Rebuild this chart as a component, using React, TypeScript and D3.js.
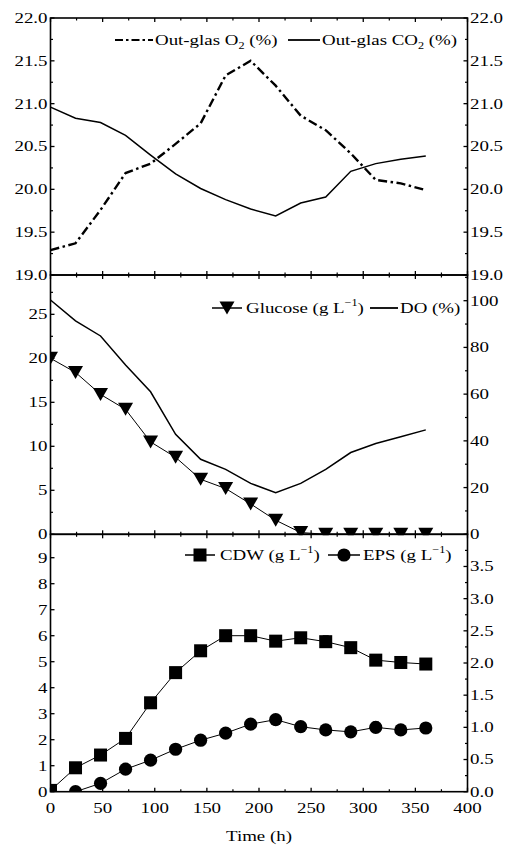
import React from "react";
import * as d3 from "d3";

// ---------- data ----------
const time = [0, 24, 48, 72, 96, 120, 144, 168, 192, 216, 240, 264, 288, 312, 336, 360];
const o2 = [19.29, 19.37, 19.76, 20.19, 20.3, 20.53, 20.77, 21.33, 21.5, 21.21, 20.86, 20.69, 20.42, 20.11, 20.07, 19.99];
const co2 = [20.96, 20.83, 20.78, 20.63, 20.4, 20.18, 20.01, 19.88, 19.77, 19.69, 19.84, 19.91, 20.21, 20.3, 20.35, 20.39];
const glucose = [20.0, 18.4, 15.9, 14.2, 10.5, 8.75, 6.25, 5.2, 3.45, 1.6, 0.2, 0, 0, 0, 0, 0];
const dissolvedO = [100.3, 91.4, 84.9, 72.5, 61.0, 42.8, 32.1, 27.8, 21.8, 17.8, 21.8, 27.8, 35.0, 38.9, 41.8, 44.7];
const cdw = [0.05, 0.92, 1.41, 2.05, 3.42, 4.58, 5.42, 6.0, 6.0, 5.79, 5.92, 5.77, 5.54, 5.06, 4.97, 4.91];
const cdwErr = [0, 0, 0, 0, 0, 0, 0, 0, 0, 0, 0, 0.22, 0.15, 0.08, 0, 0.2];
const eps = [0, 0, 0.13, 0.35, 0.49, 0.66, 0.8, 0.91, 1.05, 1.12, 1.01, 0.96, 0.93, 1.0, 0.96, 0.99];
const epsErr = [0, 0, 0, 0, 0, 0, 0, 0, 0, 0, 0, 0, 0, 0.08, 0, 0];

const xTicks = [0, 50, 100, 150, 200, 250, 300, 350, 400];
const topTicks = [19.0, 19.5, 20.0, 20.5, 21.0, 21.5, 22.0];
const midLeftTicks = [0, 5, 10, 15, 20, 25];
const midRightTicks = [0, 20, 40, 60, 80, 100];
const botLeftTicks = [0, 1, 2, 3, 4, 5, 6, 7, 8, 9];
const botRightTicks = [0, 0.5, 1.0, 1.5, 2.0, 2.5, 3.0, 3.5];

// ---------- layout ----------
const W = 510, H = 849;
const X0 = 50.5, X1 = 467.5;
const P1 = [18, 275];
const P2 = [275, 534.3];
const P3 = [534.3, 791.7];
const FONT = "'Liberation Serif', 'Times New Roman', serif";
const FS = 15.5;
const SX = 1.22;

const x = d3.scaleLinear().domain([0, 400]).range([X0, X1]);
const yTop = d3.scaleLinear().domain([19, 22]).range([P1[1], P1[0]]);
const yMidL = d3.scaleLinear().domain([0, 29.47]).range([P2[1], P2[0]]);
const yMidR = d3.scaleLinear().domain([0, 111]).range([P2[1], P2[0]]);
const yBotL = d3.scaleLinear().domain([0, 9.9]).range([P3[1], P3[0]]);
const yBotR = d3.scaleLinear().domain([0, 4]).range([P3[1], P3[0]]);

function T({ x, y, anchor = "middle", children, size = FS }: any) {
  return (
    <text
      transform={`translate(${x},${y}) scale(${SX},1)`}
      textAnchor={anchor}
      dominantBaseline="central"
      fontFamily={FONT}
      fontSize={size}
      fill="#000"
    >
      {children}
    </text>
  );
}

function Tri({ cx, cy, w = 15, h = 13 }: any) {
  return <path d={`M${cx - w / 2},${cy - h / 2}L${cx + w / 2},${cy - h / 2}L${cx},${cy + h / 2}Z`} fill="#000" />;
}
function Sq({ cx, cy, s = 13 }: any) {
  return <rect x={cx - s / 2} y={cy - s / 2} width={s} height={s} fill="#000" />;
}
function Circ({ cx, cy, r = 6.6 }: any) {
  return <circle cx={cx} cy={cy} r={r} fill="#000" />;
}

function vTicks(scale: any, major: number[], step: number, side: "left" | "right", fmt: (v: number) => string, labels: boolean, skipTop = false) {
  const [d0, d1] = scale.domain();
  const minors = d3.range(d0, d1 + 1e-9, step).filter((v) => !major.some((m) => Math.abs(m - v) < 1e-9));
  const ax = side === "left" ? X0 : X1;
  const dir = side === "left" ? 1 : -1;
  return (
    <g>
      {major.map((v, i) => (
        <line key={"M" + i} x1={ax} x2={ax + dir * 4} y1={scale(v)} y2={scale(v)} stroke="#000" strokeWidth={1.3} />
      ))}
      {minors.map((v, i) => (
        <line key={"m" + i} x1={ax} x2={ax + dir * 2.5} y1={scale(v)} y2={scale(v)} stroke="#000" strokeWidth={1.2} />
      ))}
      {labels &&
        major.map((v, i) =>
          skipTop && i === major.length - 1 ? null : (
            <T key={"L" + i} x={side === "left" ? ax - 3 : ax + 2.5} y={scale(v)} anchor={side === "left" ? "end" : "start"}>
              {fmt(v)}
            </T>
          )
        )}
    </g>
  );
}

function hTicks(yEdge: number, dir: number) {
  const minors = d3.range(25, 400, 50);
  return (
    <g>
      {xTicks.map((v, i) => (
        <line key={"M" + i} x1={x(v)} x2={x(v)} y1={yEdge} y2={yEdge + dir * 4} stroke="#000" strokeWidth={1.3} />
      ))}
      {minors.map((v, i) => (
        <line key={"m" + i} x1={x(v)} x2={x(v)} y1={yEdge} y2={yEdge + dir * 2.5} stroke="#000" strokeWidth={1.2} />
      ))}
    </g>
  );
}

const sup = (s: string) => (
  <tspan baselineShift="super" fontSize={10}>
    {s}
  </tspan>
);
const sub = (s: string) => (
  <tspan baselineShift="sub" fontSize={10}>
    {s}
  </tspan>
);

export default function App() {
  const lineTop = (vals: number[]) => d3.line<number>().x((_, i) => x(time[i])).y((v) => yTop(v))(vals) || "";
  const lineMidL = d3.line<number>().x((_, i) => x(time[i])).y((v) => yMidL(v));
  const lineMidR = d3.line<number>().x((_, i) => x(time[i])).y((v) => yMidR(v));
  const lineBotL = d3.line<number>().x((_, i) => x(time[i])).y((v) => yBotL(v));
  const lineBotR = d3.line<number>().x((_, i) => x(time[i])).y((v) => yBotR(v));

  const f1 = (v: number) => v.toFixed(1);
  const f0 = (v: number) => String(v);

  return (
    <svg width={W} height={H} style={{ position: "absolute", left: 0, top: 0, background: "#fff" }}>
      <defs>
        <clipPath id="c1">
          <rect x={X0} y={P1[0]} width={X1 - X0} height={P1[1] - P1[0]} />
        </clipPath>
        <clipPath id="c2">
          <rect x={X0} y={P2[0]} width={X1 - X0} height={P2[1] - P2[0] + 1} />
        </clipPath>
        <clipPath id="c3">
          <rect x={X0} y={P3[0]} width={X1 - X0} height={P3[1] - P3[0]} />
        </clipPath>
      </defs>
      <rect width={W} height={H} fill="#fff" />

      {/* ---------- top panel ---------- */}
      <g clipPath="url(#c1)">
        <path d={lineTop(co2)} fill="none" stroke="#000" strokeWidth={1.5} />
        <path d={lineTop(o2)} fill="none" stroke="#000" strokeWidth={2.4} strokeDasharray="9,3.5,2.5,3.5" />
      </g>
      {vTicks(yTop, topTicks, 0.25, "left", f1, true)}
      {vTicks(yTop, topTicks, 0.25, "right", f1, true)}
      {hTicks(P1[0], 1)}
      {hTicks(P1[1], -1)}

      {/* legend top */}
      <line x1={115} x2={153} y1={40} y2={40} stroke="#000" strokeWidth={2.2} strokeDasharray="8,3,2.5,3" />
      <T x={155} y={40} anchor="start">
        Out-glas O{sub("2")} (%)
      </T>
      <line x1={288} x2={320} y1={40} y2={40} stroke="#000" strokeWidth={1.8} />
      <T x={322} y={40} anchor="start">
        Out-glas CO{sub("2")} (%)
      </T>

      {/* ---------- middle panel ---------- */}
      <g clipPath="url(#c2)">
        <path d={lineMidR(dissolvedO) || ""} fill="none" stroke="#000" strokeWidth={1.5} />
        <path d={lineMidL(glucose) || ""} fill="none" stroke="#000" strokeWidth={1} />
        {glucose.map((v, i) => (
          <Tri key={i} cx={x(time[i])} cy={yMidL(v)} />
        ))}
      </g>
      {vTicks(yMidL, midLeftTicks, 2.5, "left", f0, true)}
      {vTicks(yMidR, midRightTicks, 10, "right", f0, true)}
      {hTicks(P2[0], 1)}
      {hTicks(P2[1], -1)}

      {/* legend middle */}
      <line x1={212} x2={242} y1={308} y2={308} stroke="#000" strokeWidth={1.5} />
      <Tri cx={227} cy={308} />
      <T x={246} y={308} anchor="start">
        Glucose (g L{sup("−1")})
      </T>
      <line x1={370} x2={398} y1={308} y2={308} stroke="#000" strokeWidth={1.8} />
      <T x={400} y={308} anchor="start">
        DO (%)
      </T>

      {/* ---------- bottom panel ---------- */}
      <g clipPath="url(#c3)">
        <path d={lineBotL(cdw) || ""} fill="none" stroke="#000" strokeWidth={1} />
        <path d={lineBotR(eps) || ""} fill="none" stroke="#000" strokeWidth={1} />
        {cdw.map((v, i) =>
          cdwErr[i] > 0 ? (
            <g key={"ce" + i}>
              <line x1={x(time[i])} x2={x(time[i])} y1={yBotL(v - cdwErr[i])} y2={yBotL(v + cdwErr[i])} stroke="#000" strokeWidth={1.2} />
              <line x1={x(time[i]) - 3} x2={x(time[i]) + 3} y1={yBotL(v + cdwErr[i])} y2={yBotL(v + cdwErr[i])} stroke="#000" strokeWidth={1.2} />
              <line x1={x(time[i]) - 3} x2={x(time[i]) + 3} y1={yBotL(v - cdwErr[i])} y2={yBotL(v - cdwErr[i])} stroke="#000" strokeWidth={1.2} />
            </g>
          ) : null
        )}
        {eps.map((v, i) =>
          epsErr[i] > 0 ? (
            <g key={"ee" + i}>
              <line x1={x(time[i])} x2={x(time[i])} y1={yBotR(v - epsErr[i])} y2={yBotR(v + epsErr[i])} stroke="#000" strokeWidth={1.2} />
              <line x1={x(time[i]) - 3} x2={x(time[i]) + 3} y1={yBotR(v + epsErr[i])} y2={yBotR(v + epsErr[i])} stroke="#000" strokeWidth={1.2} />
              <line x1={x(time[i]) - 3} x2={x(time[i]) + 3} y1={yBotR(v - epsErr[i])} y2={yBotR(v - epsErr[i])} stroke="#000" strokeWidth={1.2} />
            </g>
          ) : null
        )}
        {cdw.map((v, i) => (
          <Sq key={"s" + i} cx={x(time[i])} cy={yBotL(v)} />
        ))}
        {eps.map((v, i) => (
          <Circ key={"c" + i} cx={x(time[i])} cy={yBotR(v)} />
        ))}
      </g>
      {vTicks(yBotL, botLeftTicks, 1, "left", f0, true)}
      {vTicks(yBotR, botRightTicks, 0.25, "right", f1, true)}
      {hTicks(P3[0], 1)}
      {hTicks(P3[1], -1)}

      {/* legend bottom */}
      <line x1={185} x2={215} y1={555} y2={555} stroke="#000" strokeWidth={1.5} />
      <Sq cx={200} cy={555} />
      <T x={220} y={555} anchor="start">
        CDW (g L{sup("−1")})
      </T>
      <line x1={328} x2={360} y1={555} y2={555} stroke="#000" strokeWidth={1.5} />
      <Circ cx={344} cy={555} />
      <T x={363} y={555} anchor="start">
        EPS (g L{sup("−1")})
      </T>

      {/* frames */}
      {[P1, P2, P3].map((p, i) => (
        <rect key={i} x={X0} y={p[0]} width={X1 - X0} height={p[1] - p[0]} fill="none" stroke="#000" strokeWidth={1.6} />
      ))}

      {/* x axis labels */}
      {xTicks.map((v, i) => (
        <T key={i} x={x(v)} y={808}>
          {String(v)}
        </T>
      ))}
      <T x={259} y={836}>
        Time (h)
      </T>
    </svg>
  );
}
